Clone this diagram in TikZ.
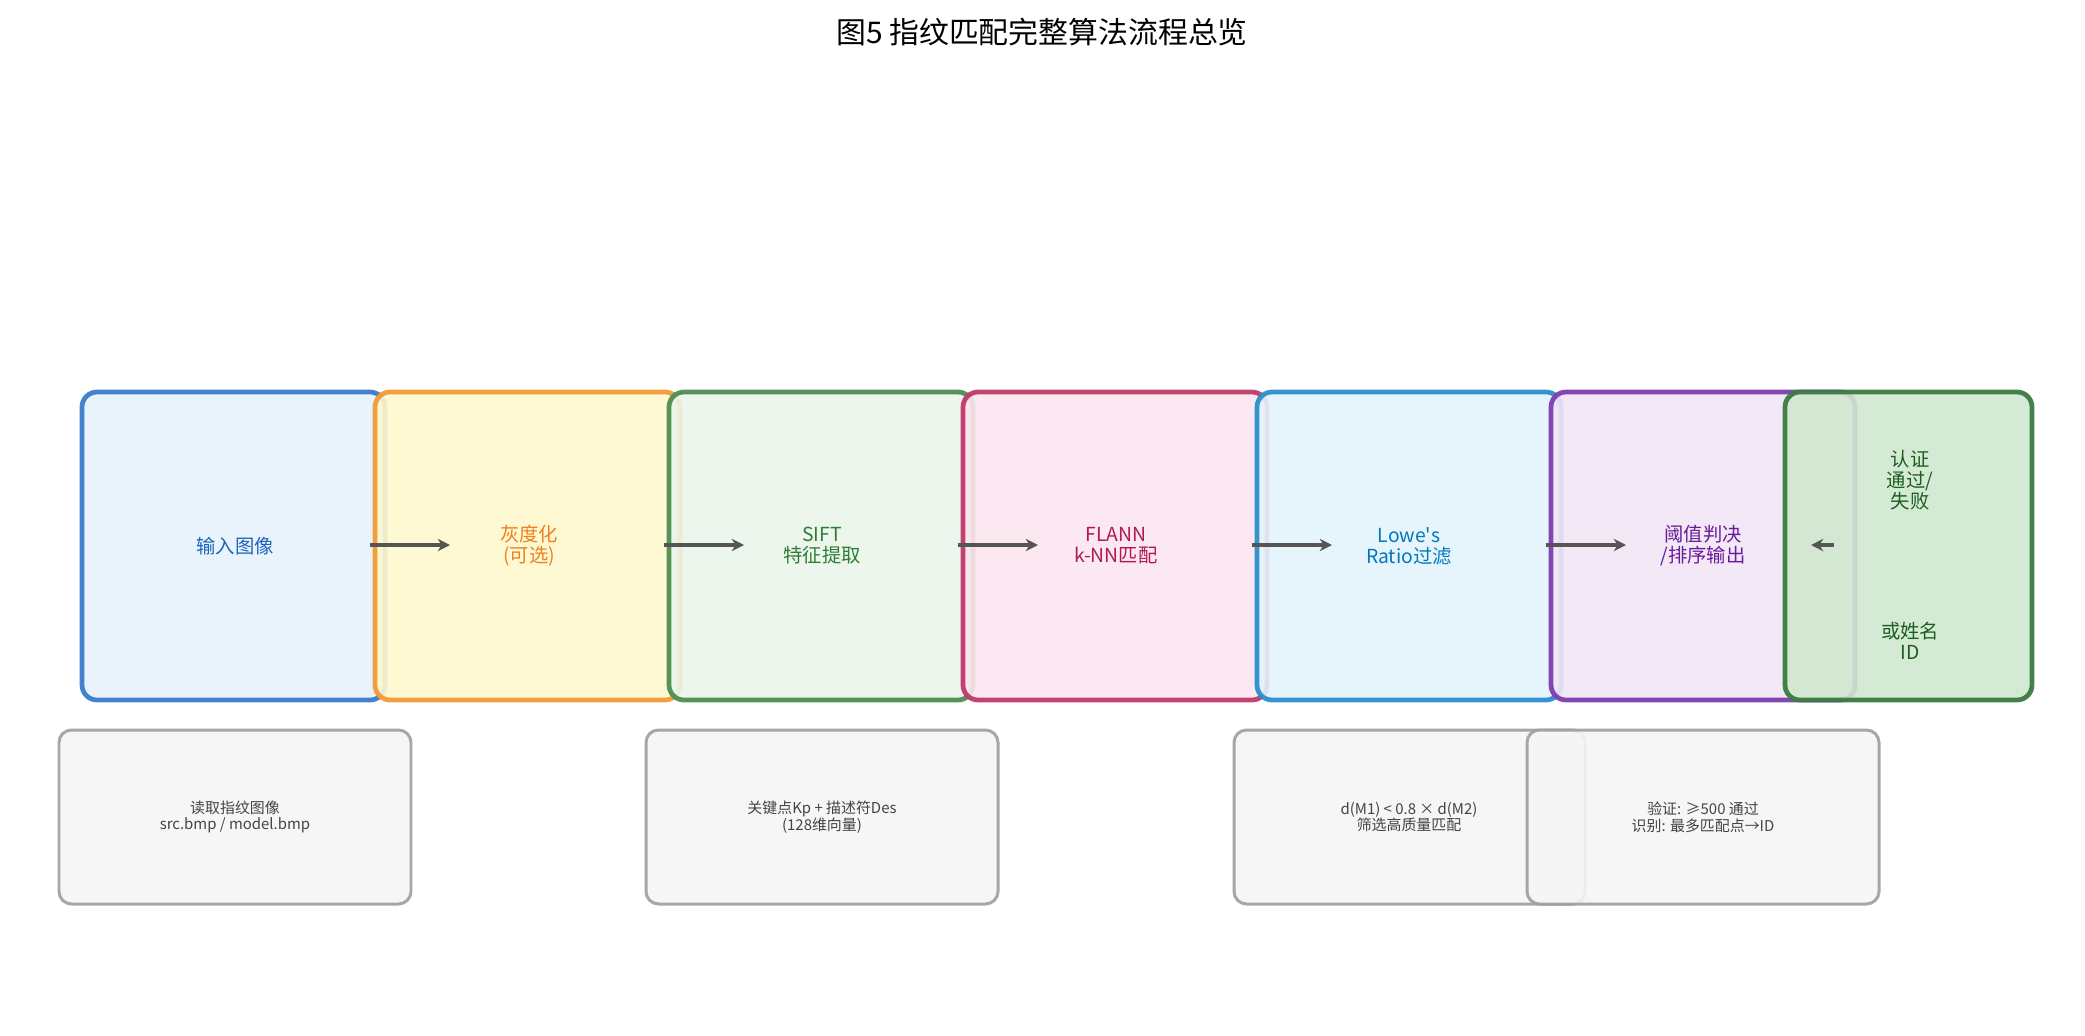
\documentclass[tikz,border=0pt]{standalone}
\usepackage{fontspec}
\setmainfont{Noto Sans CJK SC}
\usetikzlibrary{arrows.meta}
\definecolor{bB}{HTML}{3A7DC9}\definecolor{fB}{HTML}{E6F2FC}\definecolor{tB}{HTML}{1E63BE}
\definecolor{bO}{HTML}{F39A37}\definecolor{fO}{HTML}{FEF8CD}\definecolor{tO}{HTML}{F08020}
\definecolor{bG}{HTML}{4E8E4F}\definecolor{fG}{HTML}{EAF5EA}\definecolor{tG}{HTML}{2E7D32}
\definecolor{bP}{HTML}{C0396B}\definecolor{fP}{HTML}{FCE5EE}\definecolor{tP}{HTML}{B0185A}
\definecolor{bC}{HTML}{2B8FCB}\definecolor{fC}{HTML}{E3F4FC}\definecolor{tC}{HTML}{0277BD}
\definecolor{bV}{HTML}{7E3DAE}\definecolor{fV}{HTML}{F1E5F5}\definecolor{tV}{HTML}{6A1B9A}
\definecolor{bD}{HTML}{3B7A40}\definecolor{fD}{HTML}{D0E8D0}\definecolor{tD}{HTML}{1B5E20}
\definecolor{bg}{HTML}{9E9E9E}\definecolor{fg}{HTML}{F5F5F5}\definecolor{tg}{HTML}{444444}
\definecolor{arr}{HTML}{555555}
\begin{document}
\begin{tikzpicture}[x=0.02cm,y=-0.02cm,
  mainbox/.style={rounded corners=0.3cm,line width=2.7pt,draw opacity=0.95,fill opacity=0.9},
  notebox/.style={rounded corners=0.25cm,line width=1.7pt,draw=bg,fill=fg,draw opacity=0.9,fill opacity=0.9},
  flow/.style={-{Stealth[length=7pt,width=7pt]},line width=2.2pt,draw=arr},
  lbl/.style={font=\fontsize{11}{12}\selectfont,align=center},
  nlbl/.style={font=\fontsize{8.5}{9.5}\selectfont,align=center,text=tg}]
\useasboundingbox (0,0) rectangle (2085,1035);
\node (title) at (1042,32) {\fontsize{17}{20}\selectfont 图5\ 指纹匹配完整算法流程总览};
% main boxes
\draw[mainbox,draw=bB,fill=fB] (82,392) rectangle (385,700);
\draw[mainbox,draw=bO,fill=fO] (375,392) rectangle (680,700);
\draw[mainbox,draw=bG,fill=fG] (669,392) rectangle (973,700);
\draw[mainbox,draw=bP,fill=fP] (963,392) rectangle (1267,700);
\draw[mainbox,draw=bC,fill=fC] (1257,392) rectangle (1561,700);
\draw[mainbox,draw=bV,fill=fV] (1551,392) rectangle (1855,700);
\draw[mainbox,draw=bD,fill=fD] (1785,392) rectangle (2032,700);
\node[lbl,text=tB] (n1) at (235,546) {输入图像};
\node[lbl,text=tO] (n2) at (529,546) {灰度化\\(可选)};
\node[lbl,text=tG] (n3) at (822,546) {SIFT\\特征提取};
\node[lbl,text=tP] (n4) at (1116,546) {FLANN\\k-NN匹配};
\node[lbl,text=tC] (n5) at (1409,546) {Lowe\textquotesingle s\\Ratio过滤};
\node[lbl,text=tV] (n6) at (1703,546) {阈值判决\\/排序输出};
\node[lbl,text=tD] (n7a) at (1910,480) {认证\\通过/\\失败};
\node[lbl,text=tD] (n7b) at (1910,641) {或姓名\\ID};
% arrows
\coordinate (a1s) at (370,545); \coordinate (a1e) at (450,545);
\coordinate (a2s) at (664,545); \coordinate (a2e) at (744,545);
\coordinate (a3s) at (958,545); \coordinate (a3e) at (1038,545);
\coordinate (a4s) at (1252,545); \coordinate (a4e) at (1332,545);
\coordinate (a5s) at (1546,545); \coordinate (a5e) at (1626,545);
\coordinate (a6s) at (1834,545); \coordinate (a6e) at (1811,545);
\draw[flow] (a1s) -- (a1e);
\draw[flow] (a2s) -- (a2e);
\draw[flow] (a3s) -- (a3e);
\draw[flow] (a4s) -- (a4e);
\draw[flow] (a5s) -- (a5e);
\draw[flow] (a6s) -- (a6e);
% notes
\draw[notebox] (59,730) rectangle (411,904);
\draw[notebox] (646,730) rectangle (998,904);
\draw[notebox] (1234,730) rectangle (1585,904);
\draw[notebox] (1527,730) rectangle (1879,904);
\node[nlbl] (m1) at (235,817) {读取指纹图像\\src.bmp / model.bmp};
\node[nlbl] (m2) at (822,817) {关键点Kp + 描述符Des\\(128维向量)};
\node[nlbl] (m3) at (1409,817) {d(M1) < 0.8 × d(M2)\\筛选高质量匹配};
\node[nlbl] (m4) at (1703,817) {验证: ≥500 通过\\识别: 最多匹配点→ID};
\end{tikzpicture}
\end{document}
